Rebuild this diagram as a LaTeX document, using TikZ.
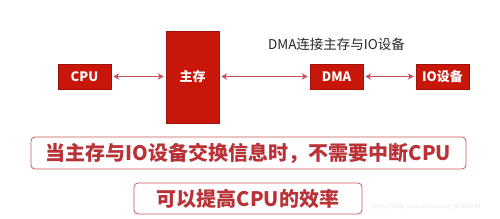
\documentclass[tikz,border=0pt]{standalone}
\usepackage{fontspec}
\setmainfont{Noto Sans CJK SC}
\newfontfamily\cjk{Noto Sans CJK SC}
\usetikzlibrary{arrows.meta}
\definecolor{boxred}{RGB}{200,22,10}
\definecolor{arrred}{RGB}{200,80,90}
\definecolor{txtred}{RGB}{185,50,55}
\definecolor{lblgray}{RGB}{40,40,40}
\tikzset{
  redbox/.style={draw=boxred!80!black, line width=0.6pt, fill=boxred, text=white, font=\cjk\bfseries\fontsize{13}{13}\selectfont, inner sep=0pt},
  link/.style={draw=arrred, line width=1.7pt, {Stealth[length=6pt,width=6.5pt]}-{Stealth[length=6pt,width=6.5pt]}},
  notebox/.style={draw=txtred!80, line width=0.8pt, rounded corners=4pt, inner sep=0pt, text=txtred, font=\cjk\bfseries\fontsize{20}{20}\selectfont}
}
\begin{document}
\begin{tikzpicture}[x=1pt,y=-1pt]
\useasboundingbox (0,0) rectangle (500,218);
\fill[white] (0,0) rectangle (500,218);
\node[redbox, minimum width=53pt, minimum height=25pt] (cpu) at (84.5,76.5) {CPU};
\node[redbox, minimum width=53pt, minimum height=92pt] (mem) at (192.5,77) {主存};
\node[redbox, minimum width=53pt, minimum height=25pt] (dma) at (336.5,76.5) {DMA};
\node[redbox, minimum width=53pt, minimum height=25pt] (io) at (442.5,76.5) {IO设备};
\node[text=lblgray, font=\cjk\fontsize{13.5}{13.5}\selectfont, inner sep=0pt] (lbl) at (336.5,44.5) {DMA连接主存与IO设备};
\draw[link] ([xshift=2pt]cpu.east) -- ([xshift=-2pt]cpu.east -| mem.west);
\draw[link] ([xshift=2pt]dma.west -| mem.east) -- ([xshift=-2pt]dma.west);
\draw[link] ([xshift=2pt]dma.east) -- ([xshift=-2pt]io.west);
\node[notebox, minimum width=435pt, minimum height=32pt] (n1) at (248.5,153) {当主存与IO设备交换信息时，不需要中断CPU};
\node[notebox, minimum width=228pt, minimum height=31pt] (n2) at (248,198.5) {可以提高CPU的效率};
\node[text=black!8, font=\fontsize{6}{6}\selectfont, inner sep=0pt, anchor=west] (wm) at (371,207) {https://blog.csdn.net/weixin\_41000634};
\end{tikzpicture}
\end{document}
